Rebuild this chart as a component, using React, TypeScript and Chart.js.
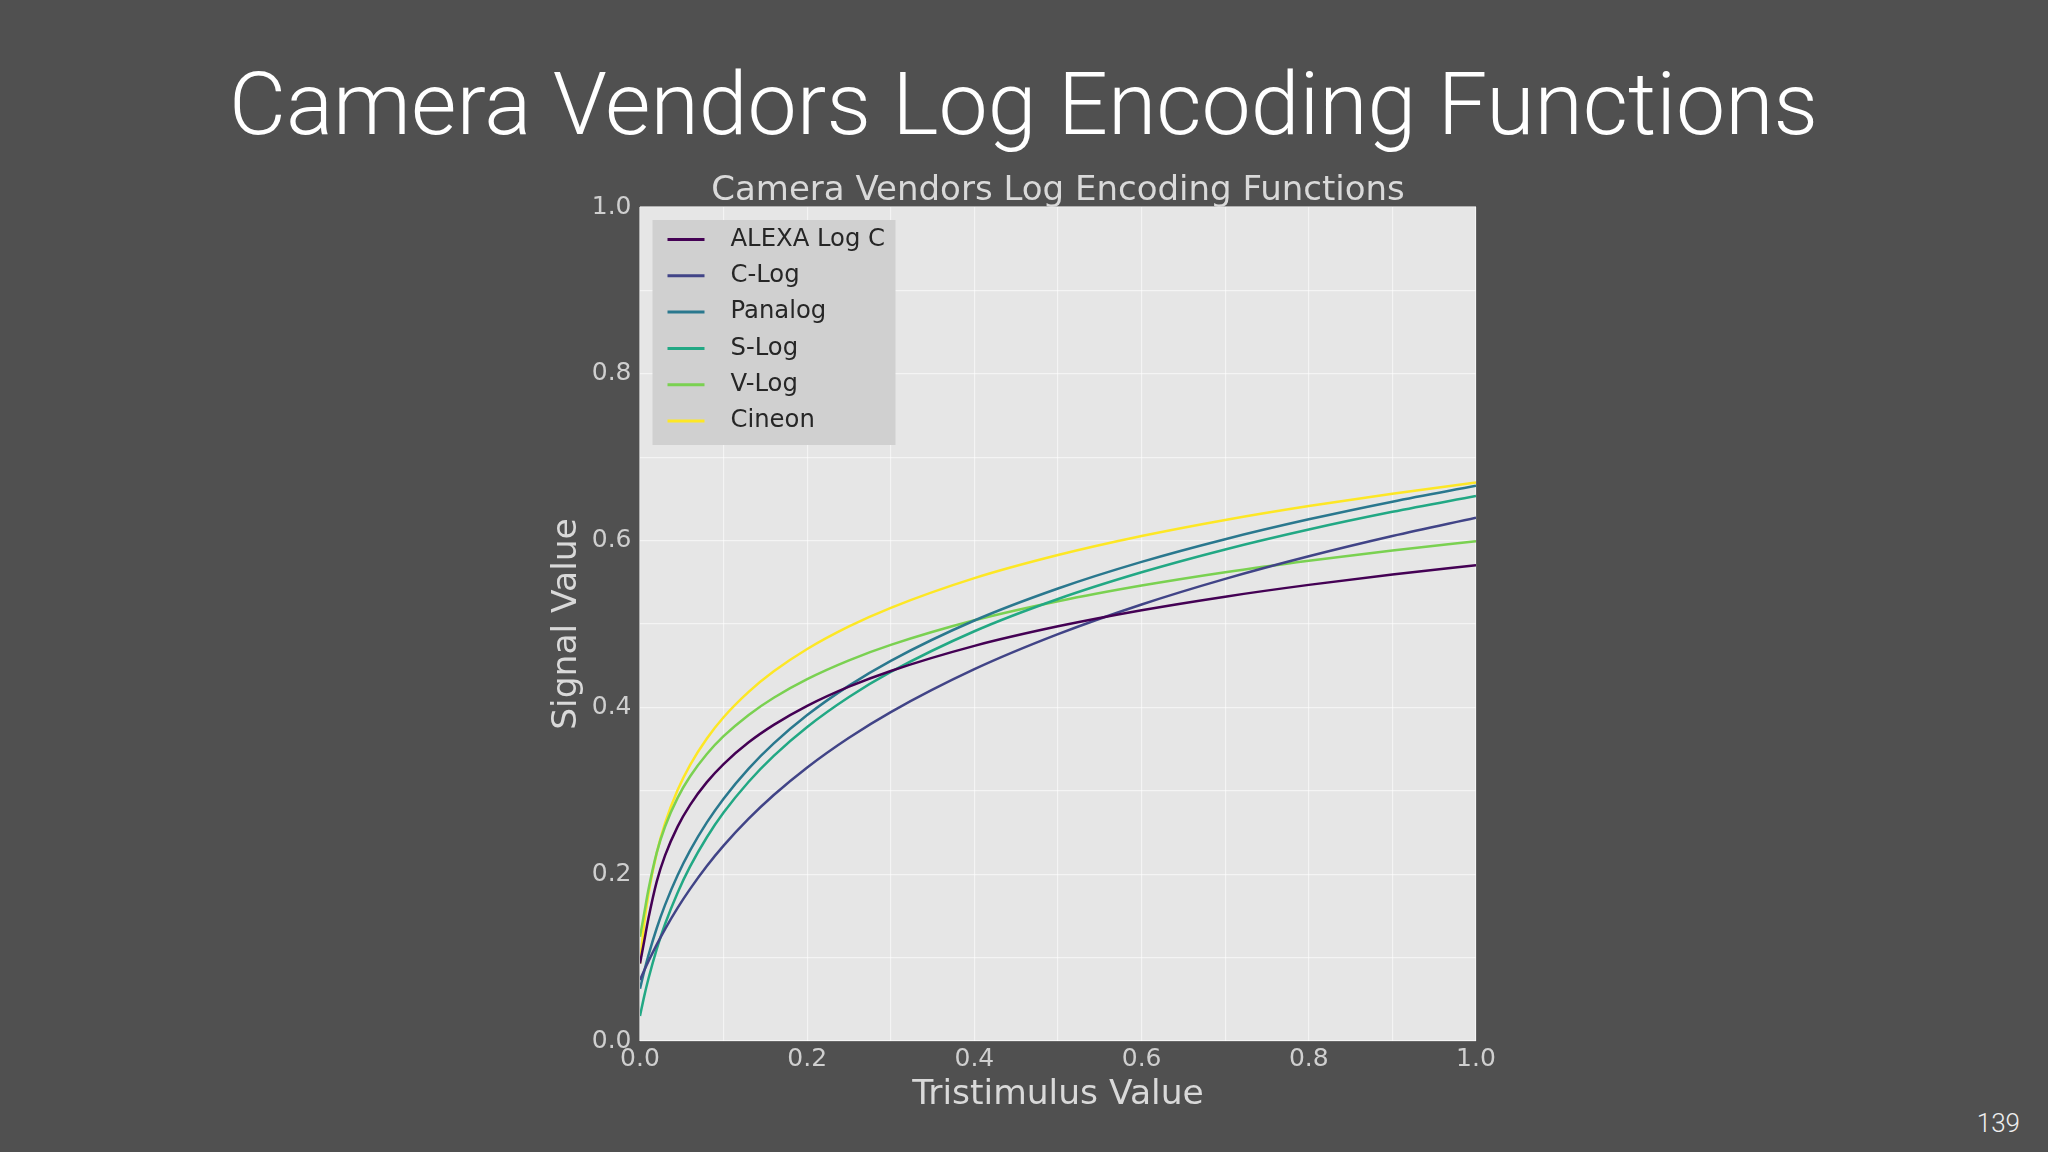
import { useEffect, useRef } from "react";
import { Chart, registerables } from "chart.js";
import type { Plugin } from "chart.js";

Chart.register(...registerables);

// Tristimulus values sampled along the x axis
const tristimulus = [
  0, 0.005, 0.01, 0.02, 0.03, 0.045, 0.06, 0.08, 0.1, 0.13, 0.16, 0.2, 0.25, 0.3, 0.4, 0.5, 0.6, 0.7, 0.8,
  0.9, 1.0,
];

// Signal values
const alexaLogC = [
  0.0928, 0.1196, 0.1465, 0.1911, 0.2225, 0.2571, 0.2832, 0.3104, 0.3321, 0.3581, 0.379, 0.4018, 0.4248,
  0.4437, 0.4738, 0.4972, 0.5165, 0.5328, 0.5469, 0.5594, 0.5706,
];
const cLog = [
  0.0731, 0.0845, 0.0953, 0.1156, 0.1342, 0.1596, 0.1824, 0.2098, 0.2342, 0.2665, 0.2949, 0.328, 0.3636,
  0.3944, 0.4458, 0.4878, 0.5234, 0.5541, 0.5812, 0.6055, 0.6274,
];
const panalog = [
  0.0626, 0.0835, 0.1024, 0.1352, 0.1632, 0.1987, 0.2285, 0.2621, 0.2906, 0.3266, 0.3568, 0.3908, 0.4261,
  0.4559, 0.5042, 0.5426, 0.5745, 0.6017, 0.6255, 0.6467, 0.6657,
];
const sLog = [
  0.03, 0.0535, 0.0743, 0.1102, 0.1403, 0.1779, 0.2093, 0.2443, 0.2739, 0.3109, 0.3419, 0.3765, 0.4124,
  0.4425, 0.4913, 0.53, 0.562, 0.5894, 0.6133, 0.6345, 0.6535,
];
const vLog = [
  0.125, 0.153, 0.181, 0.2259, 0.2572, 0.2915, 0.3174, 0.3442, 0.3655, 0.391, 0.4116, 0.4339, 0.4564,
  0.4749, 0.5044, 0.5273, 0.5461, 0.5621, 0.5759, 0.5882, 0.5991,
];
const cineon = [
  0.0929, 0.1409, 0.1757, 0.2255, 0.2612, 0.3009, 0.3312, 0.3628, 0.3882, 0.4186, 0.4432, 0.47, 0.4971,
  0.5194, 0.555, 0.5827, 0.6055, 0.6248, 0.6415, 0.6563, 0.6696,
];

const seriesNames = ["ALEXA Log C", "C-Log", "Panalog", "S-Log", "V-Log", "Cineon"];
const seriesValues = [alexaLogC, cLog, panalog, sLog, vLog, cineon];
const seriesColors = ["#440154", "#414487", "#2a788e", "#22a884", "#7ad151", "#fde725"];

const tickLabels = ["0.0", "0.2", "0.4", "0.6", "0.8", "1.0"];

const slideTitle = "Camera Vendors Log Encoding Functions";
const chartTitle = "Camera Vendors Log Encoding Functions";
const slideNumber = "139";

const FONT = "'DejaVu Sans', sans-serif";

const plotBackground: Plugin<"line"> = {
  id: "plotBackground",
  beforeDraw(chart) {
    const { ctx, chartArea } = chart;
    ctx.save();
    ctx.fillStyle = "#e6e6e6";
    ctx.fillRect(chartArea.left, chartArea.top, chartArea.width, chartArea.height);
    ctx.restore();
  },
};

// matplotlib-style legend box in the upper left of the plot
const legendBox: Plugin<"line"> = {
  id: "legendBox",
  afterDatasetsDraw(chart) {
    const { ctx, chartArea } = chart;
    const x0 = chartArea.left + 12.5;
    const y0 = chartArea.top + 13;
    ctx.save();
    ctx.fillStyle = "#d0d0d0";
    ctx.fillRect(x0, y0, 243, 225);
    ctx.font = `24.3px ${FONT}`;
    ctx.textBaseline = "middle";
    ctx.textAlign = "left";
    chart.data.datasets.forEach((ds, i) => {
      const y = y0 + 19.5 + i * 36.3;
      ctx.strokeStyle = ds.borderColor as string;
      ctx.lineWidth = 3;
      ctx.beginPath();
      ctx.moveTo(x0 + 15, y);
      ctx.lineTo(x0 + 52, y);
      ctx.stroke();
      ctx.fillStyle = "#262626";
      ctx.fillText(ds.label ?? "", x0 + 78, y);
    });
    ctx.restore();
  },
};

function tickLabel(v: number | string) {
  const s = Number(v).toFixed(1);
  return tickLabels.includes(s) ? s : "";
}

function LogChart() {
  const canvasRef = useRef<HTMLCanvasElement>(null);
  const chartRef = useRef<Chart | null>(null);

  useEffect(() => {
    if (!canvasRef.current) return;
    chartRef.current?.destroy();
    chartRef.current = new Chart(canvasRef.current, {
      type: "line",
      data: {
        datasets: seriesNames.map((name, i) => ({
          label: name,
          data: tristimulus.map((x, j) => ({ x, y: seriesValues[i][j] })),
          borderColor: seriesColors[i],
          backgroundColor: seriesColors[i],
          borderWidth: 2.5,
          pointRadius: 0,
          cubicInterpolationMode: "monotone" as const,
          fill: false,
        })),
      },
      options: {
        responsive: false,
        animation: false,
        layout: { padding: { left: 0, right: 40, top: 0, bottom: 0 } },
        plugins: {
          legend: { display: false },
          tooltip: { enabled: false },
          title: {
            display: true,
            text: chartTitle,
            color: "#d9d9d9",
            fullSize: false,
            font: { family: FONT, size: 34, weight: "normal", lineHeight: 0.9 },
            padding: { top: 24.3, bottom: 0.1 },
          },
        },
        scales: {
          x: {
            type: "linear",
            min: 0,
            max: 1,
            afterFit: (scale) => {
              scale.height = 72;
            },
            border: { display: false },
            grid: { color: "rgba(255,255,255,0.55)", lineWidth: 1.2, drawTicks: false },
            ticks: {
              stepSize: 0.1,
              autoSkip: false,
              maxRotation: 0,
              padding: 3.5,
              color: "#cfcfcf",
              font: { family: FONT, size: 25, lineHeight: 1.2 },
              callback: (v) => tickLabel(v),
            },
            title: {
              display: true,
              text: "Tristimulus Value",
              color: "#d9d9d9",
              font: { family: FONT, size: 34.5, lineHeight: 1 },
              padding: { top: 0, bottom: 0.5 },
            },
          },
          y: {
            type: "linear",
            min: 0,
            max: 1,
            afterFit: (scale) => {
              scale.width = 100;
            },
            border: { display: false },
            grid: { color: "rgba(255,255,255,0.55)", lineWidth: 1.2, drawTicks: false },
            ticks: {
              stepSize: 0.1,
              autoSkip: false,
              padding: 8.5,
              color: "#cfcfcf",
              font: { family: FONT, size: 25, lineHeight: 1.2 },
              callback: (v) => tickLabel(v),
            },
            title: {
              display: true,
              text: "Signal Value",
              color: "#d9d9d9",
              font: { family: FONT, size: 34.5, lineHeight: 1 },
              padding: { top: 9.75, bottom: 0 },
            },
          },
        },
      },
      plugins: [plotBackground, legendBox],
    });
    return () => {
      chartRef.current?.destroy();
    };
  }, []);

  return <canvas ref={canvasRef} width={976} height={961} style={{ width: 976, height: 961 }} />;
}

export default function App() {
  return (
    <div
      style={{
        position: "fixed",
        left: 0,
        top: 0,
        width: 2048,
        height: 1152,
        background: "#505050",
        overflow: "hidden",
      }}
    >
      <svg width={2048} height={1152} style={{ position: "absolute", left: 0, top: 0 }}>
        <text
          x={229}
          y={134}
          fontSize={88}
          fontWeight={300}
          fill="#ffffff"
          fontFamily="'Helvetica Neue', Roboto, Inter, 'Liberation Sans', sans-serif"
          textLength={1589}
          lengthAdjust="spacingAndGlyphs"
        >
          {slideTitle}
        </text>
        <text
          x={2020}
          y={1132}
          fontSize={26}
          fontWeight={300}
          fill="#eeeeee"
          textAnchor="end"
          fontFamily="'Helvetica Neue', Roboto, Inter, 'Liberation Sans', sans-serif"
        >
          {slideNumber}
        </text>
      </svg>
      <div style={{ position: "absolute", left: 540, top: 151.5, width: 976, height: 961 }}>
        <LogChart />
      </div>
    </div>
  );
}
